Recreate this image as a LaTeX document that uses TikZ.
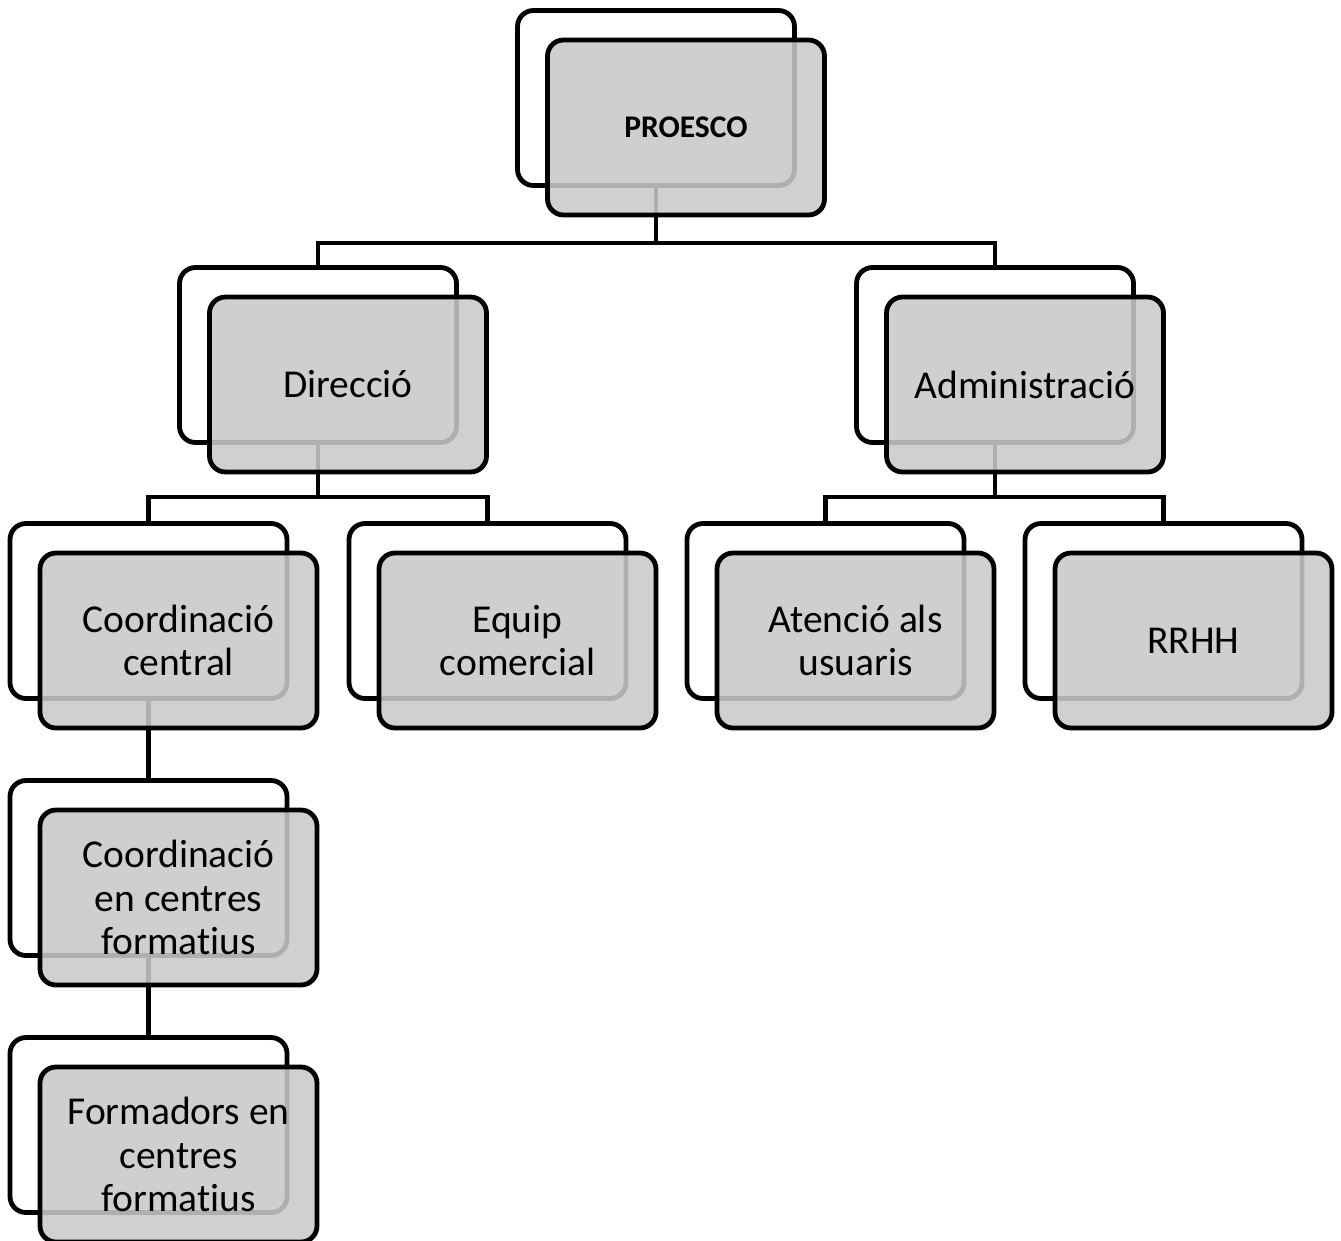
\documentclass[tikz,border=0pt]{standalone}
\usepackage{fontspec}
\setmainfont[RawFeature=-liga]{Carlito}
\begin{document}
\begin{tikzpicture}[x=1pt,y=-1pt,
  backbox/.style={draw=black,line width=4.8pt,fill=white,rounded corners=16pt,
    minimum width=277pt,minimum height=175pt,inner sep=0pt},
  frontbox/.style={draw=black,line width=4.8pt,fill=black!21,fill opacity=0.875,text opacity=1,
    rounded corners=16pt,minimum width=277pt,minimum height=175pt,inner sep=0pt,
    align=center,font=\fontsize{39.5}{43.5}\selectfont},
  link/.style={draw=black,line width=4.6pt}]
\useasboundingbox (0,0) rectangle (1341,1240);
% back boxes
\node[backbox] (Pb) at (656,98) {};
\node[backbox] (Db) at (318,355) {};
\node[backbox] (Ab) at (995,355) {};
\node[backbox] (C1b) at (148.5,611) {};
\node[backbox] (Eb) at (487.5,611) {};
\node[backbox] (Atb) at (825.5,611) {};
\node[backbox] (Rb) at (1163.5,611) {};
\node[backbox] (C2b) at (148.5,868) {};
\node[backbox] (Fb) at (148.5,1125) {};
% connectors
\draw[link] (Pb.south) -- ++(0,55) -| (Db.north);
\draw[link] (Pb.south) -- ++(0,55) -| (Ab.north);
\draw[link] (Db.south) -- ++(0,52) -| (C1b.north);
\draw[link] (Db.south) -- ++(0,52) -| (Eb.north);
\draw[link] (Ab.south) -- ++(0,52) -| (Atb.north);
\draw[link] (Ab.south) -- ++(0,52) -| (Rb.north);
\draw[link] (C1b.south) -- (C2b.north);
\draw[link] (C2b.south) -- (Fb.north);
% front boxes
\node[frontbox,font=\bfseries\fontsize{31.5}{36}\selectfont] (P) at ([shift={(30,29.5)}]Pb.center) {PROESCO};
\node[frontbox] (D) at ([shift={(30,29.5)}]Db.center) {Direcció};
\node[frontbox] (A) at ([shift={(30,29.5)}]Ab.center) {Administració};
\node[frontbox] (C1) at ([shift={(30,29.5)}]C1b.center) {Coordinació\\central};
\node[frontbox] (E) at ([shift={(30,29.5)}]Eb.center) {Equip\\comercial};
\node[frontbox] (At) at ([shift={(30,29.5)}]Atb.center) {Atenció als\\usuaris};
\node[frontbox] (R) at ([shift={(30,29.5)}]Rb.center) {RRHH};
\node[frontbox] (C2) at ([shift={(30,29.5)}]C2b.center) {Coordinació\\en centres\\formatius};
\node[frontbox] (F) at ([shift={(30,29.5)}]Fb.center) {Formadors en\\centres\\formatius};
\end{tikzpicture}
\end{document}
